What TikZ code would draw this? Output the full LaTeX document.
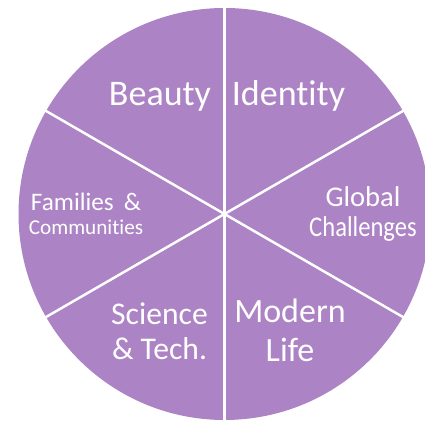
\documentclass[tikz,border=0pt]{standalone}
\usepackage{fontspec}
\setmainfont{Carlito}[Ligatures=NoCommon]
\definecolor{piefill}{RGB}{172,131,196}
\newcommand{\pfs}[2]{\fontsize{#1}{#2}\selectfont}
\begin{document}
\begin{tikzpicture}[x=0.5pt, y=-0.5pt,
    disc/.style={fill=piefill, draw=none},
    spoke/.style={draw=white, line width=1.25pt},
    lbl/.style={text=white, align=center, inner sep=0pt, anchor=base},
  ]
  \useasboundingbox (0,0) rectangle (425,421);
  \clip (0,0) rectangle (425,421);

  % === disc and dividers ===
  \coordinate (c) at (224.5,214);
  \fill[disc] (c) circle[radius=206];
  \foreach \a in {30,90,150,210,270,330}
    \draw[spoke] (c) -- ++(\a:212);

  % === labels (base = last line) ===
  \node[lbl, font=\pfs{18}{18}] (beauty) at (160,106) {Beauty};
  \node[lbl, font=\pfs{18}{18}] (ident) at (288.5,106) {Identity};
  \node[lbl, font=\pfs{14.3}{15}] (glob) at (363,237) {Global\\\scalebox{0.86}[1]{Challenges}};
  \node[lbl] (fam) at (86,235) {\pfs{12.6}{13}Families\hspace{0.4em}\&\\\pfs{10.6}{13}Communities};
  \node[lbl, font=\pfs{15.8}{17.5}] (sci) at (159.5,360) {Science\\\& Tech.};
  \node[lbl, font=\pfs{17}{19.5}] (mod) at (290,362) {Modern\\Life};

\end{tikzpicture}
\end{document}
